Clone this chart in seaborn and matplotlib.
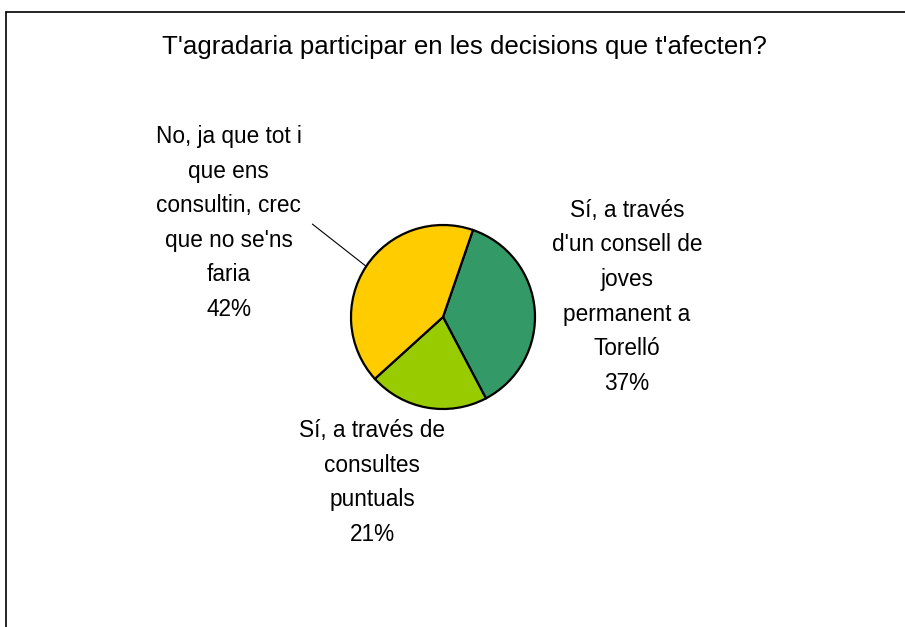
import numpy as np
import matplotlib
matplotlib.use("Agg")
import matplotlib.pyplot as plt
from matplotlib.lines import Line2D
import seaborn as sns

title = "T'agradaria participar en les decisions que t'afecten?"
categories = [
    "Sí, a través\nd'un consell de\njoves\npermanent a\nTorelló",
    "Sí, a través de\nconsultes\npuntuals",
    "No, ja que tot i\nque ens\nconsultin, crec\nque no se'ns\nfaria",
]
values = [37, 21, 42]
colors = ["#339966", "#99CC00", "#FFCC00"]

# label centres in axes data units (pie radius = 1)
label_pos = [(2.0, 0.22), (-0.77, -1.80), (-2.33, 1.02)]

sns.set_theme(style="white")
plt.rcParams["font.family"] = ["Liberation Sans", "DejaVu Sans"]

W, H, DPI = 905, 627, 100
fig = plt.figure(figsize=(W / DPI, H / DPI), dpi=DPI)
fig.patch.set_facecolor("white")

# pie centre and radius in pixels
cx, cy, R = 443, 317, 92
L = 3.0
side = 2 * L * R
ax = fig.add_axes([(cx - side / 2) / W, (H - cy - side / 2) / H, side / W, side / H])

wedges, _ = ax.pie(
    values,
    colors=colors,
    startangle=71,
    counterclock=False,
    radius=1.0,
    wedgeprops=dict(edgecolor="black", linewidth=1.6),
)
ax.set_xlim(-L, L)
ax.set_ylim(-L, L)
ax.set_aspect("equal")
ax.axis("off")

for w, cat, val, (lx, ly) in zip(wedges, categories, values, label_pos):
    ax.text(lx, ly, f"{cat}\n{val}%", ha="center", va="center",
            fontsize=16.3, linespacing=1.64, color="black")

# leader line for the "No" slice
w = wedges[2]
mid = np.deg2rad((w.theta1 + w.theta2) / 2)
ax.plot([-1.42, np.cos(mid)], [1.01, np.sin(mid)], color="black", lw=0.8)

fig.text(464 / W, 1 - 47 / H, title, ha="center", va="center", fontsize=18.6, color="black")

# chart-area frame (top and left edges)
fig.add_artist(Line2D([5.5 / W, 1.0], [1 - 11.5 / H, 1 - 11.5 / H], color="black", lw=1.2))
fig.add_artist(Line2D([5.5 / W, 5.5 / W], [0.0, 1 - 11.5 / H], color="black", lw=1.2))

fig.savefig("out.png", dpi=DPI, facecolor="white")
